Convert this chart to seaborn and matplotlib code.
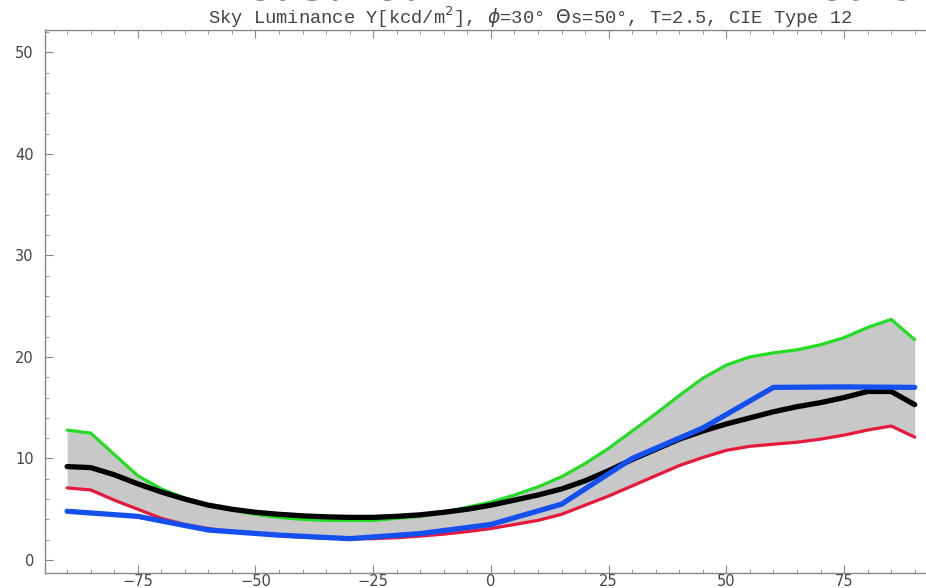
import numpy as np
import pandas as pd
import matplotlib
matplotlib.use("Agg")
import matplotlib.pyplot as plt
import seaborn as sns
from matplotlib.ticker import MultipleLocator

# ---- data ----
angles = list(range(-90, 91, 5))
green = [12.8, 12.5, 10.4, 8.3, 7.0, 6.1, 5.4, 4.9, 4.5, 4.2, 4.0, 3.9, 3.9, 3.9,
         4.1, 4.3, 4.7, 5.2, 5.7, 6.4, 7.2, 8.2, 9.5, 11.0, 12.7, 14.4, 16.2,
         17.9, 19.2, 20.0, 20.4, 20.7, 21.2, 21.9, 22.9, 23.7, 21.7]
black = [9.2, 9.1, 8.4, 7.5, 6.7, 6.0, 5.4, 5.0, 4.7, 4.5, 4.35, 4.25, 4.2, 4.2,
         4.3, 4.45, 4.7, 5.0, 5.4, 5.9, 6.4, 7.0, 7.8, 8.8, 9.9, 10.9, 11.9,
         12.7, 13.4, 14.0, 14.6, 15.1, 15.5, 16.0, 16.6, 16.6, 15.3]
red = [7.1, 6.9, 5.9, 5.0, 4.1, 3.5, 3.1, 2.8, 2.6, 2.4, 2.25, 2.15, 2.1, 2.1,
       2.2, 2.35, 2.55, 2.8, 3.1, 3.5, 3.9, 4.5, 5.4, 6.3, 7.3, 8.3, 9.3,
       10.1, 10.8, 11.2, 11.4, 11.6, 11.9, 12.3, 12.8, 13.2, 12.1]
blue_angles = [-90, -75, -60, -45, -30, -15, 0, 15, 30, 45, 60, 75, 90]
blue = [4.8, 4.3, 2.95, 2.45, 2.1, 2.6, 3.5, 5.5, 10.0, 13.0, 17.0, 17.05, 17.0]

title = "Sky Luminance Y[kcd/m$^2$], $\\phi$=30° $\\Theta$s=50°, T=2.5, CIE Type 12"

df = pd.DataFrame({"angle": angles, "green": green, "black": black, "red": red})
dfb = pd.DataFrame({"angle": blue_angles, "blue": blue})

sns.set_theme(style="white")
plt.rcParams["font.family"] = ["DejaVu Sans"]

fig = plt.figure(figsize=(9.26, 5.88), dpi=100)
ax = fig.add_axes([45 / 926, 15 / 588, (926 - 45) / 926, (573 - 30) / 588])

ax.fill_between(df["angle"], df["red"], df["green"], color="#c8c8c8", lw=0, zorder=1)
sns.lineplot(data=df, x="angle", y="green", ax=ax, color="#22dd22", lw=2.3, zorder=2)
sns.lineplot(data=df, x="angle", y="red", ax=ax, color="#e8183c", lw=2.3, zorder=3)
sns.lineplot(data=df, x="angle", y="black", ax=ax, color="black", lw=3.8, zorder=4)
sns.lineplot(data=dfb, x="angle", y="blue", ax=ax, color="#1450f0", lw=3.8, zorder=5)
for ln in ax.lines:
    ln.set_solid_capstyle("round")
    ln.set_solid_joinstyle("round")

ax.set_xlim(-94.7, 92.4)
ax.set_ylim(-1.28, 52.2)
ax.set_xlabel("")
ax.set_ylabel("")

ax.xaxis.set_major_locator(MultipleLocator(25))
ax.xaxis.set_minor_locator(MultipleLocator(5))
ax.yaxis.set_major_locator(MultipleLocator(10))
ax.yaxis.set_minor_locator(MultipleLocator(2))
ax.tick_params(which="both", direction="in", top=True, bottom=True, left=True,
               right=False, color="#888888", labelcolor="#444444", labelsize=10.5)
ax.tick_params(which="major", length=6, width=0.8)
ax.tick_params(which="minor", length=3, width=0.6)
ax.tick_params(axis="y", pad=8)
ax.tick_params(axis="x", pad=0.5)

for side in ["left", "bottom", "top"]:
    ax.spines[side].set_visible(True)
    ax.spines[side].set_color("#888888")
    ax.spines[side].set_linewidth(1.0)
ax.spines["right"].set_visible(False)

fig.text(530 / 926, 1 - 17 / 588, title, ha="center", va="center",
         family=["Liberation Mono", "DejaVu Sans Mono"], fontsize=13.5, color="#444444")
fig.text(205 / 926, 1 + 0.6 / 588, "measured", ha="left", va="baseline",
         fontsize=29, fontweight="bold", color="black")
fig.text(768 / 926, 1 + 0.6 / 588, "Predicted", ha="left", va="baseline",
         fontsize=29, fontweight="bold", color="black")

fig.savefig("out.png", dpi=100)
